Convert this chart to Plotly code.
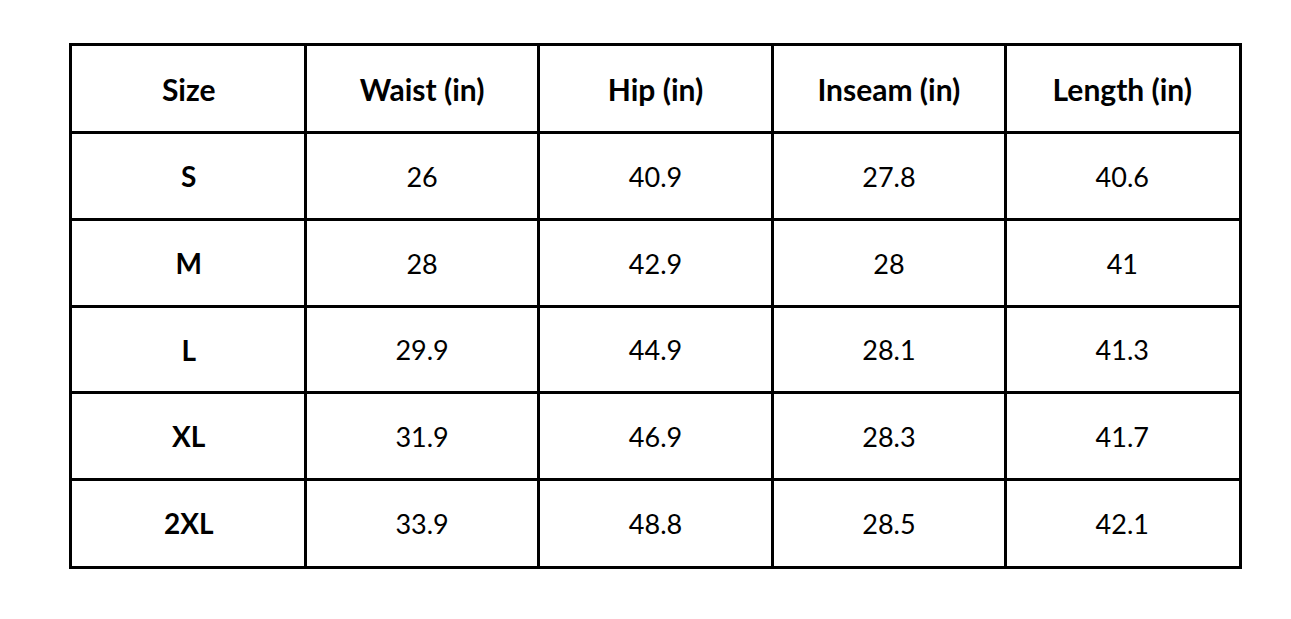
import plotly.graph_objects as go

# size chart data
headers = ['Size', 'Waist (in)', 'Hip (in)', 'Inseam (in)', 'Length (in)']
sizes = ['S', 'M', 'L', 'XL', '2XL']
waist = [26, 28, 29.9, 31.9, 33.9]
hip = [40.9, 42.9, 44.9, 46.9, 48.8]
inseam = [27.8, 28, 28.1, 28.3, 28.5]
length = [40.6, 41, 41.3, 41.7, 42.1]

# page body has an 8px margin, so the figure is drawn a little smaller
off = 8
W, H = 1291 - 2 * off, 619 - 2 * off
fam = 'Lato, Calibri, sans-serif'
font = dict(family=fam, size=27, color='black')
bold = dict(family=fam, size=28, color='black')
head = dict(family=fam, size=30, color='black')
dy = 0.05  # text sits a touch below the cell middle

fig = go.Figure()

# header row (row 0)
fig.add_trace(go.Scatter(
    x=list(range(len(headers))), y=[0 + dy] * len(headers),
    mode='text', text=['<b>%s</b>' % h for h in headers],
    textposition='middle center', textfont=head, hoverinfo='skip'))

# size column (bold)
fig.add_trace(go.Scatter(
    x=[0] * len(sizes), y=[i + dy for i in range(1, len(sizes) + 1)],
    mode='text', text=['<b>%s</b>' % s for s in sizes],
    textposition='middle center', textfont=bold, hoverinfo='skip'))

# measurement columns
for ci, col in enumerate([waist, hip, inseam, length], start=1):
    fig.add_trace(go.Scatter(
        x=[ci] * len(col), y=[i + dy for i in range(1, len(col) + 1)],
        mode='text', text=['%g' % v for v in col],
        textposition='middle center', textfont=font, hoverinfo='skip'))

ncol = len(headers)
nrow = len(sizes) + 1
grid = dict(showgrid=True, gridcolor='black', gridwidth=2.5, zeroline=False,
            showticklabels=False, ticks='', showline=True, linecolor='black',
            linewidth=2.5, mirror=True, fixedrange=True)

fig.update_layout(
    width=W, height=H,
    margin=dict(l=0, r=0, t=0, b=0),
    paper_bgcolor='white', plot_bgcolor='white',
    showlegend=False,
    xaxis=dict(range=[-0.5, ncol - 0.5], domain=[(72 - off) / W, (1239 - off) / W],
               tickvals=[i + 0.5 for i in range(ncol - 1)], **grid),
    yaxis=dict(range=[nrow - 0.5, -0.5], domain=[1 - (566 - off) / H, 1 - (46 - off) / H],
               tickvals=[i + 0.5 for i in range(nrow - 1)], **grid),
)

fig.write_html('out.html', config={'displayModeBar': False})
